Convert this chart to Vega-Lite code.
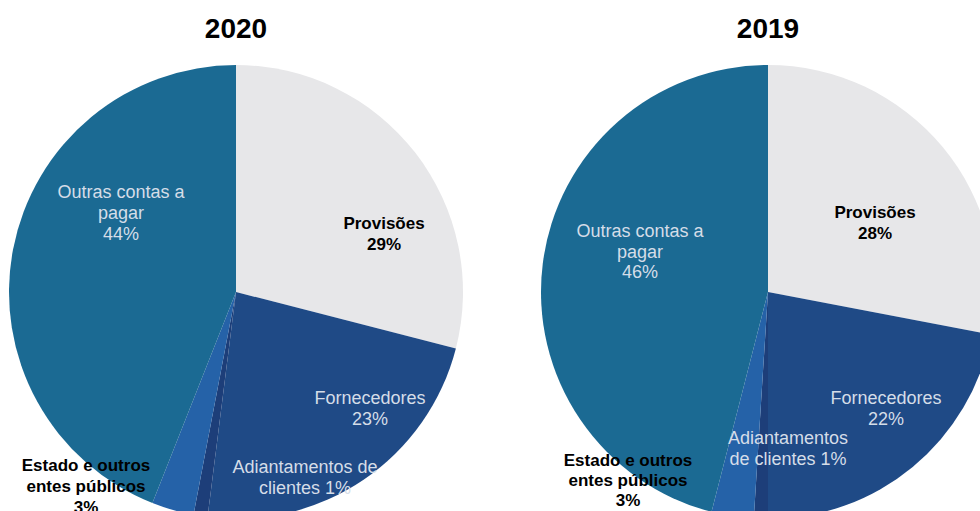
{
  "$schema": "https://vega.github.io/schema/vega-lite/v6.json",
  "padding": {"left": 0, "top": 16, "right": 0, "bottom": 0},
  "background": "white",
  "spacing": 60,
  "bounds": "flush",
  "config": {"view": {"stroke": null}, "font": "Liberation Sans"},
  "data": {"values": [
    {"ano": 2020, "ordem": 1, "categoria": "Provisões", "valor": 29, "rotulo": "Provisões\n29%"},
    {"ano": 2020, "ordem": 2, "categoria": "Fornecedores", "valor": 23, "rotulo": "Fornecedores\n23%"},
    {"ano": 2020, "ordem": 3, "categoria": "Adiantamentos de clientes", "valor": 1, "rotulo": "Adiantamentos de\nclientes 1%"},
    {"ano": 2020, "ordem": 4, "categoria": "Estado e outros entes públicos", "valor": 3, "rotulo": "Estado e outros\nentes públicos\n3%"},
    {"ano": 2020, "ordem": 5, "categoria": "Outras contas a pagar", "valor": 44, "rotulo": "Outras contas a\npagar\n44%"},
    {"ano": 2019, "ordem": 1, "categoria": "Provisões", "valor": 28, "rotulo": "Provisões\n28%"},
    {"ano": 2019, "ordem": 2, "categoria": "Fornecedores", "valor": 22, "rotulo": "Fornecedores\n22%"},
    {"ano": 2019, "ordem": 3, "categoria": "Adiantamentos de clientes", "valor": 1, "rotulo": "Adiantamentos\nde clientes 1%"},
    {"ano": 2019, "ordem": 4, "categoria": "Estado e outros entes públicos", "valor": 3, "rotulo": "Estado e outros\nentes públicos\n3%"},
    {"ano": 2019, "ordem": 5, "categoria": "Outras contas a pagar", "valor": 46, "rotulo": "Outras contas a\npagar\n46%"}
  ]},
  "hconcat": [
    {
      "width": 472, "height": 432,
      "title": {"text": "2020", "fontSize": 28, "fontWeight": "bold", "font": "Liberation Sans", "color": "#000000", "offset": 21, "anchor": "middle"},
      "transform": [{"filter": "datum.ano == 2020"}],
      "layer": [
        {"mark": {"type": "arc", "outerRadius": 227, "stroke": null},
         "encoding": {
           "theta": {"field": "valor", "type": "quantitative", "stack": true},
           "color": {"field": "categoria", "type": "nominal", "legend": null,
             "scale": {"domain": ["Provisões", "Fornecedores", "Adiantamentos de clientes", "Estado e outros entes públicos", "Outras contas a pagar"],
                       "range": ["#e7e7e9", "#1f4a86", "#1d3e79", "#2562a8", "#1b6a93"]}},
           "order": {"field": "ordem", "type": "quantitative"}}},
        {"transform": [{"filter": "datum.categoria == 'Provisões'"}],
         "mark": {"type": "text", "dx": 148, "dy": -68, "color": "#000000", "fontWeight": "bold", "fontSize": 17, "lineBreak": "\n", "lineHeight": 21, "align": "center", "baseline": "middle"},
         "encoding": {"text": {"field": "rotulo", "type": "nominal"}}},
        {"transform": [{"filter": "datum.categoria == 'Fornecedores'"}],
         "mark": {"type": "text", "dx": 134, "dy": 107, "color": "#d5dde8", "fontSize": 18, "lineBreak": "\n", "lineHeight": 21, "align": "center", "baseline": "middle"},
         "encoding": {"text": {"field": "rotulo", "type": "nominal"}}},
        {"transform": [{"filter": "datum.categoria == 'Adiantamentos de clientes'"}],
         "mark": {"type": "text", "dx": 69, "dy": 176, "color": "#d5dde8", "fontSize": 18, "lineBreak": "\n", "lineHeight": 21, "align": "center", "baseline": "middle"},
         "encoding": {"text": {"field": "rotulo", "type": "nominal"}}},
        {"transform": [{"filter": "datum.categoria == 'Estado e outros entes públicos'"}],
         "mark": {"type": "text", "dx": -150, "dy": 174, "color": "#000000", "fontWeight": "bold", "fontSize": 17, "lineBreak": "\n", "lineHeight": 21, "align": "center", "baseline": "middle"},
         "encoding": {"text": {"field": "rotulo", "type": "nominal"}}},
        {"transform": [{"filter": "datum.categoria == 'Outras contas a pagar'"}],
         "mark": {"type": "text", "dx": -115, "dy": -99, "color": "#d5dde8", "fontSize": 18, "lineBreak": "\n", "lineHeight": 21, "align": "center", "baseline": "middle"},
         "encoding": {"text": {"field": "rotulo", "type": "nominal"}}}
      ]
    },
    {
      "width": 472, "height": 432,
      "title": {"text": "2019", "fontSize": 28, "fontWeight": "bold", "font": "Liberation Sans", "color": "#000000", "offset": 21, "anchor": "middle"},
      "transform": [{"filter": "datum.ano == 2019"}],
      "layer": [
        {"mark": {"type": "arc", "outerRadius": 227, "stroke": null},
         "encoding": {
           "theta": {"field": "valor", "type": "quantitative", "stack": true},
           "color": {"field": "categoria", "type": "nominal", "legend": null,
             "scale": {"domain": ["Provisões", "Fornecedores", "Adiantamentos de clientes", "Estado e outros entes públicos", "Outras contas a pagar"],
                       "range": ["#e7e7e9", "#1f4a86", "#1d3e79", "#2562a8", "#1b6a93"]}},
           "order": {"field": "ordem", "type": "quantitative"}}},
        {"transform": [{"filter": "datum.categoria == 'Provisões'"}],
         "mark": {"type": "text", "dx": 107, "dy": -79, "color": "#000000", "fontWeight": "bold", "fontSize": 17, "lineBreak": "\n", "lineHeight": 20.5, "align": "center", "baseline": "middle"},
         "encoding": {"text": {"field": "rotulo", "type": "nominal"}}},
        {"transform": [{"filter": "datum.categoria == 'Fornecedores'"}],
         "mark": {"type": "text", "dx": 118, "dy": 107, "color": "#d5dde8", "fontSize": 18, "lineBreak": "\n", "lineHeight": 20.5, "align": "center", "baseline": "middle"},
         "encoding": {"text": {"field": "rotulo", "type": "nominal"}}},
        {"transform": [{"filter": "datum.categoria == 'Adiantamentos de clientes'"}],
         "mark": {"type": "text", "dx": 20, "dy": 147, "color": "#d5dde8", "fontSize": 18, "lineBreak": "\n", "lineHeight": 20.5, "align": "center", "baseline": "middle"},
         "encoding": {"text": {"field": "rotulo", "type": "nominal"}}},
        {"transform": [{"filter": "datum.categoria == 'Estado e outros entes públicos'"}],
         "mark": {"type": "text", "dx": -140, "dy": 169, "color": "#000000", "fontWeight": "bold", "fontSize": 17, "lineBreak": "\n", "lineHeight": 20, "align": "center", "baseline": "middle"},
         "encoding": {"text": {"field": "rotulo", "type": "nominal"}}},
        {"transform": [{"filter": "datum.categoria == 'Outras contas a pagar'"}],
         "mark": {"type": "text", "dx": -128, "dy": -60, "color": "#d5dde8", "fontSize": 18, "lineBreak": "\n", "lineHeight": 20.5, "align": "center", "baseline": "middle"},
         "encoding": {"text": {"field": "rotulo", "type": "nominal"}}}
      ]
    }
  ]
}
